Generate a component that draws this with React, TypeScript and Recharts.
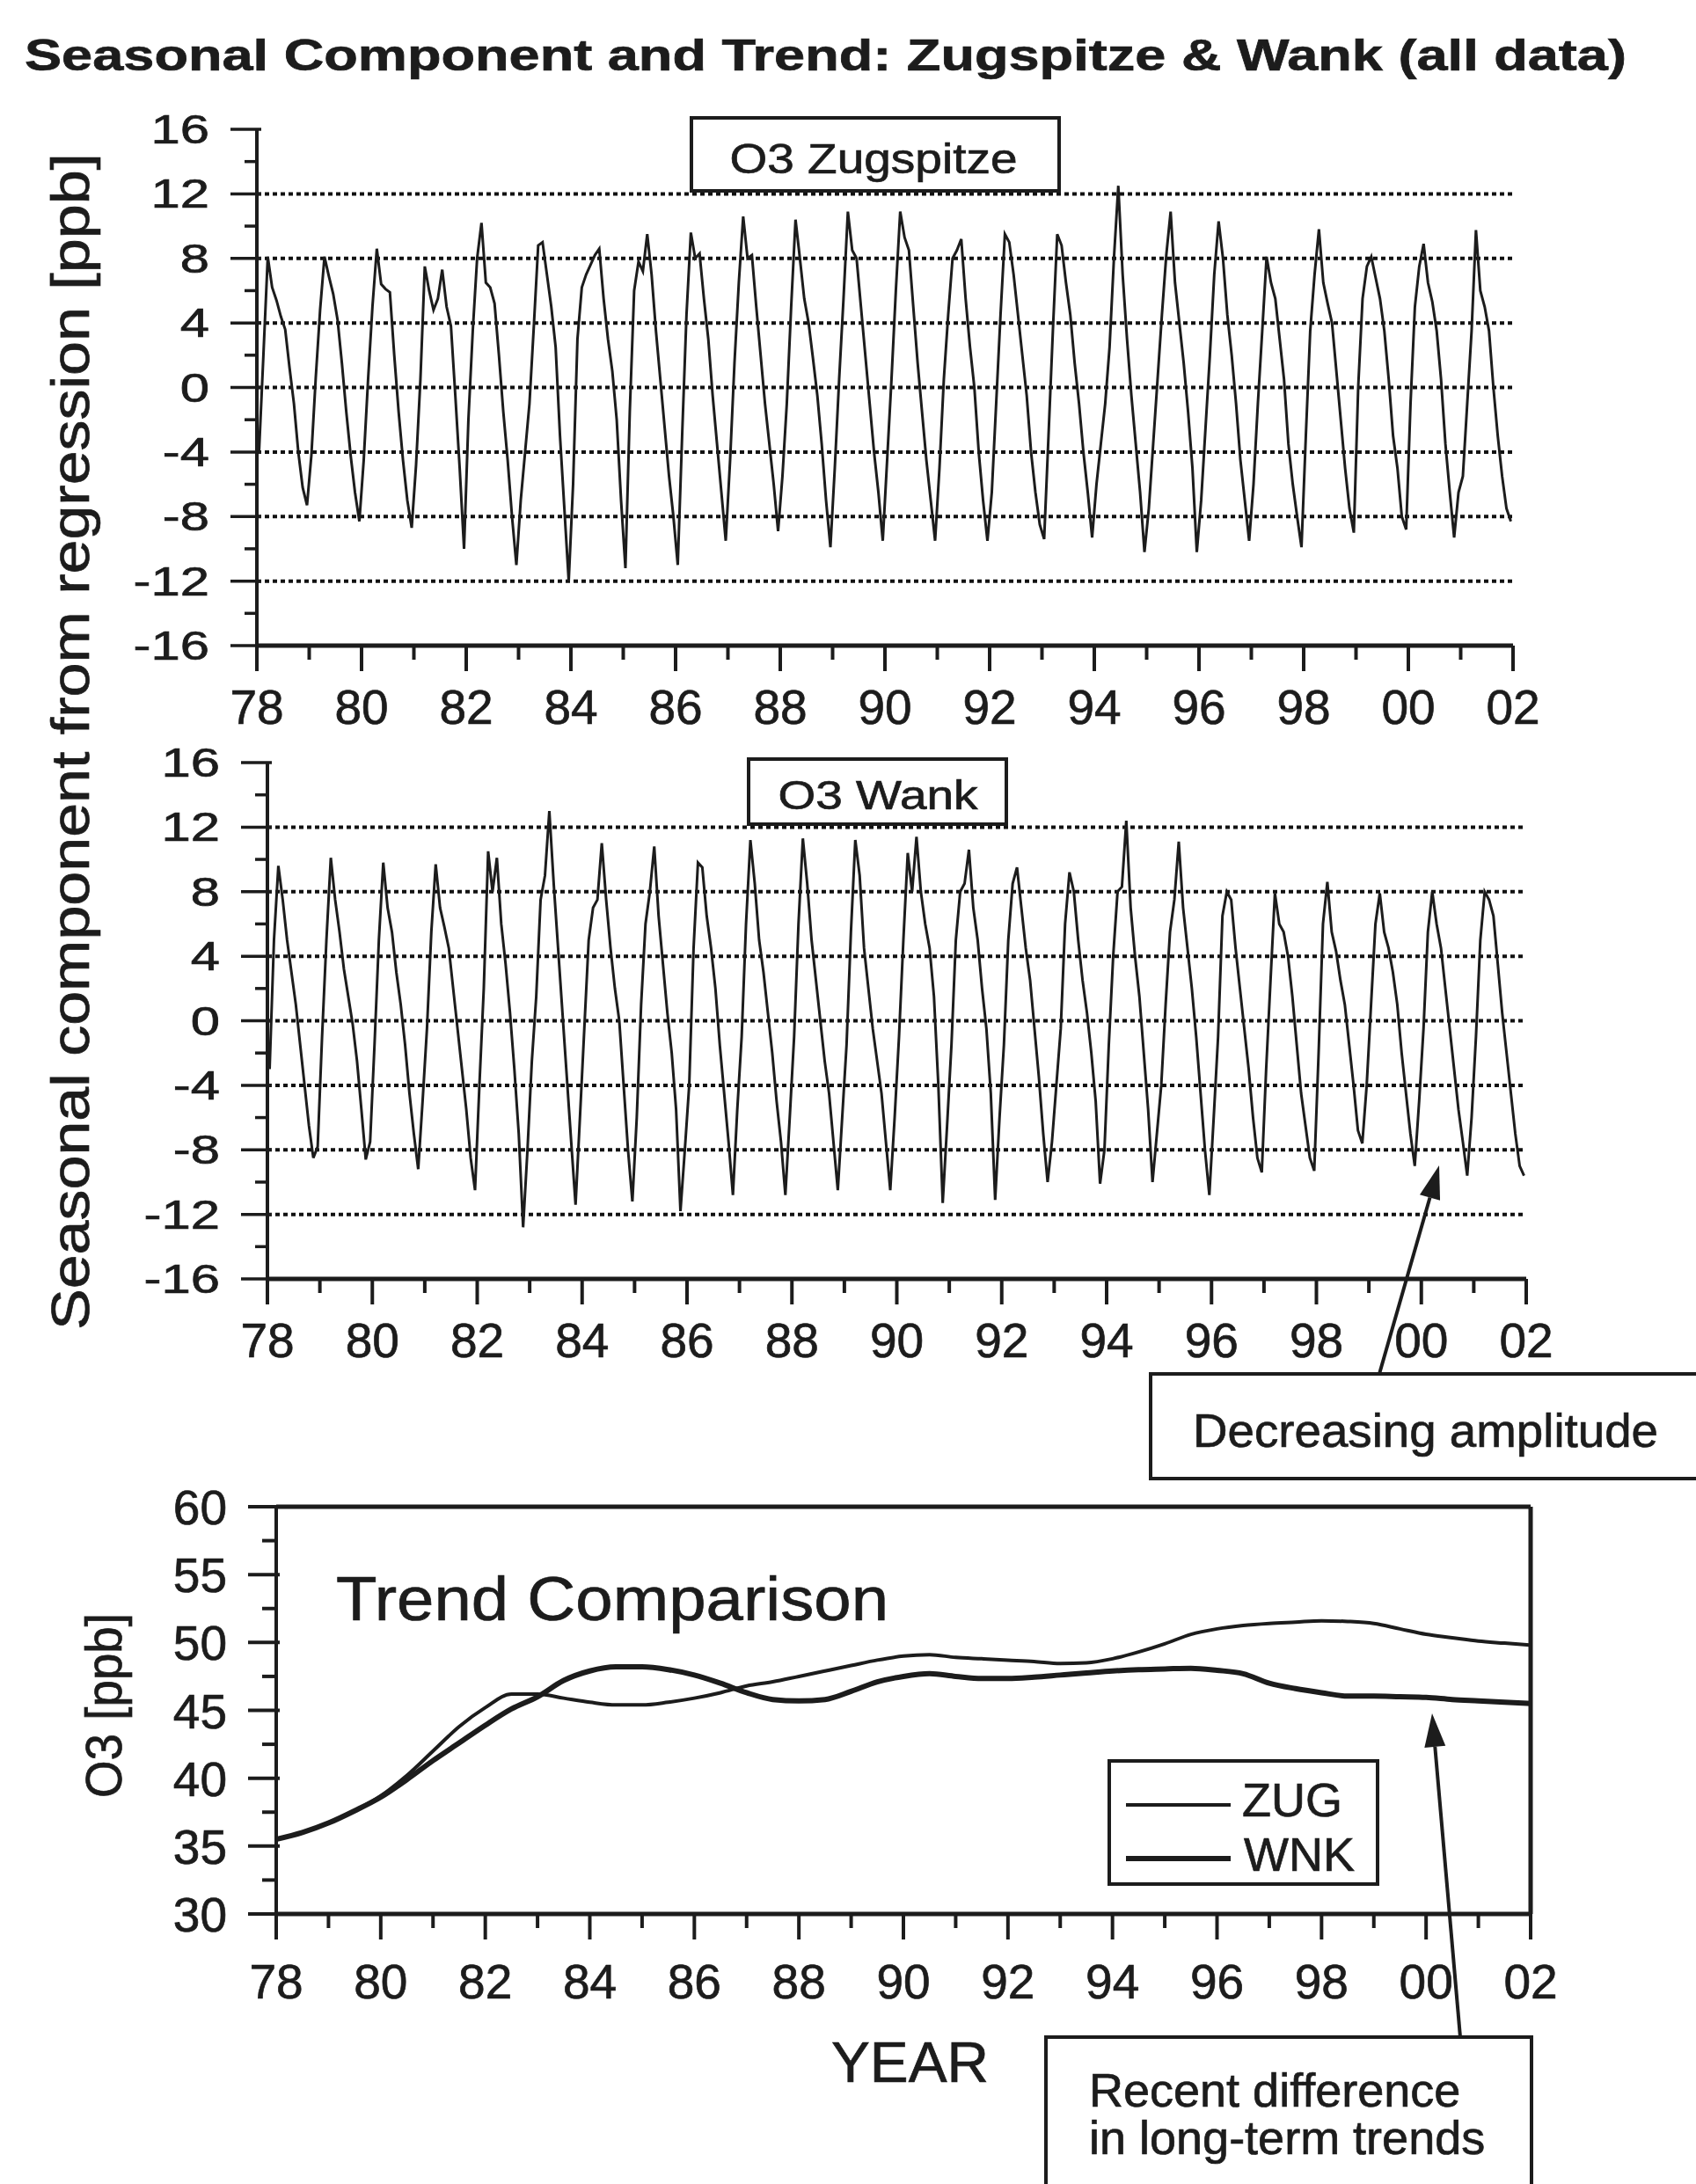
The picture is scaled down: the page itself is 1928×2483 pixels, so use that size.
import React from "react";
import { LineChart, Line, XAxis, YAxis, ReferenceLine } from "recharts";

const INK = "#1c1c1c";
const FONT = "'Liberation Sans', Arial, Helvetica, sans-serif";

// seasonal component [ppb], one row per year (Jan..Dec), 1978-2001
const SEASON_YEARS = [78, 79, 80, 81, 82, 83, 84, 85, 86, 87, 88, 89, 90, 91, 92, 93, 94, 95, 96, 97, 98, 99, 100, 101];

const ZUG_SEASONAL = [
  [-4.0, 2.0, 8.1, 6.2, 5.4, 4.4, 3.6, 1.2, -1.0, -4.0, -6.2, -7.3],
  [-4.2, 0.6, 4.8, 8.1, 6.9, 5.8, 4.2, 1.5, -1.5, -4.2, -6.5, -8.3],
  [-4.5, 0.5, 5.0, 8.6, 6.4, 6.1, 5.9, 2.0, -1.5, -4.5, -7.0, -8.7],
  [-4.8, 0.5, 7.5, 6.0, 4.8, 5.5, 7.3, 5.0, 3.8, -0.5, -5.0, -10.0],
  [-2.0, 3.5, 8.0, 10.2, 6.5, 6.2, 5.2, 2.0, -1.5, -4.5, -8.0, -11.0],
  [-7.0, -4.0, -1.0, 3.8, 8.8, 9.0, 7.0, 5.0, 2.5, -3.0, -7.5, -12.0],
  [-6.0, 3.0, 6.2, 7.0, 7.6, 8.2, 8.6, 5.5, 3.0, 1.0, -2.0, -7.0],
  [-11.2, -1.5, 6.0, 7.8, 7.2, 9.5, 7.0, 3.5, 0.5, -2.5, -5.5, -8.0],
  [-11.0, -3.0, 4.5, 9.6, 8.0, 8.3, 5.5, 3.0, -0.5, -3.5, -6.5, -9.5],
  [-4.5, 1.5, 6.5, 10.6, 8.0, 8.2, 5.0, 2.0, -1.0, -3.5, -6.0, -8.9],
  [-5.5, -1.0, 5.0, 10.4, 8.0, 5.5, 4.0, 1.8, -0.5, -3.5, -7.0, -9.9],
  [-5.0, 0.5, 5.5, 10.9, 8.5, 8.0, 5.0, 2.0, -1.0, -4.0, -6.5, -9.5],
  [-4.5, 0.5, 6.0, 10.9, 9.3, 8.5, 5.0, 1.5, -1.5, -4.5, -7.0, -9.5],
  [-5.0, 0.5, 4.5, 8.0, 8.5, 9.2, 5.5, 2.5, 0.0, -4.0, -7.0, -9.5],
  [-6.5, -1.0, 4.5, 9.5, 9.0, 7.0, 4.5, 2.0, -0.5, -4.0, -6.5, -8.5],
  [-9.4, -3.0, 3.5, 9.5, 8.8, 6.5, 4.5, 1.5, -1.0, -4.0, -6.5, -9.3],
  [-6.0, -3.5, -1.0, 2.5, 8.0, 12.5, 7.0, 3.0, -0.5, -3.5, -6.5, -10.2],
  [-7.5, -3.5, 0.5, 4.5, 8.2, 10.9, 6.5, 4.0, 1.5, -1.5, -5.0, -10.2],
  [-7.0, -2.5, 2.0, 7.0, 10.3, 8.0, 4.5, 2.0, -1.0, -4.5, -7.0, -9.5],
  [-6.0, -1.0, 3.5, 8.1, 6.5, 5.5, 3.0, 0.5, -3.5, -6.0, -8.0, -9.9],
  [-3.0, 3.5, 7.0, 9.8, 6.5, 5.2, 4.0, 1.0, -2.0, -5.0, -7.5, -9.0],
  [0.0, 5.5, 7.5, 8.1, 6.8, 5.5, 3.5, 0.5, -3.0, -5.0, -8.0, -8.8],
  [-1.0, 5.0, 7.5, 8.9, 6.5, 5.3, 3.5, 0.5, -3.5, -6.5, -9.3, -6.5],
  [-5.5, -1.0, 3.5, 9.75, 6.0, 5.0, 3.5, 0.0, -3.0, -5.5, -7.5, -8.3],
];

const WNK_SEASONAL = [
  [-3.0, 5.0, 9.6, 7.5, 5.0, 3.0, 1.0, -1.5, -4.0, -6.5, -8.5, -7.8],
  [-1.0, 5.0, 10.1, 7.5, 5.5, 3.2, 1.5, -0.2, -2.5, -5.5, -8.6, -7.5],
  [-1.5, 5.0, 9.8, 7.0, 5.5, 3.0, 1.0, -1.5, -4.5, -7.0, -9.2, -5.0],
  [-0.5, 5.5, 9.7, 7.0, 5.8, 4.5, 2.0, -0.5, -3.0, -5.5, -8.5, -10.5],
  [-4.0, 2.0, 10.5, 8.0, 10.1, 6.0, 3.5, 0.5, -3.0, -7.0, -12.8, -8.0],
  [-2.5, 1.5, 7.5, 9.0, 13.0, 8.5, 4.5, 0.5, -3.5, -7.5, -11.4, -6.0],
  [-0.5, 5.0, 7.0, 7.5, 11.0, 7.5, 4.5, 2.0, 0.0, -4.0, -8.0, -11.2],
  [-6.0, 1.0, 6.0, 8.0, 10.8, 6.5, 3.5, 0.5, -2.0, -5.5, -11.8, -8.0],
  [-4.0, 4.5, 9.8, 9.5, 6.5, 4.5, 2.0, -1.5, -4.5, -7.5, -10.8, -5.5],
  [-1.0, 6.0, 11.2, 8.5, 5.0, 3.0, 0.5, -2.0, -5.0, -7.5, -10.8, -6.0],
  [-1.0, 6.0, 11.3, 8.5, 5.0, 2.5, 0.0, -2.5, -4.5, -7.5, -10.5, -6.0],
  [-1.5, 5.5, 11.2, 9.0, 4.5, 2.0, -0.5, -2.5, -4.5, -7.5, -10.5, -6.0],
  [-1.0, 5.0, 10.4, 8.0, 11.4, 8.0, 6.0, 4.5, 1.5, -4.0, -11.3, -6.5],
  [-1.5, 5.0, 8.0, 8.5, 10.6, 7.0, 5.0, 2.0, -0.5, -4.5, -11.1, -6.0],
  [-1.5, 5.0, 8.5, 9.5, 7.0, 4.5, 2.5, -0.5, -3.5, -7.0, -10.0, -7.5],
  [-4.0, -0.5, 6.0, 9.2, 8.0, 5.0, 2.5, 0.5, -2.0, -5.0, -10.1, -8.0],
  [-1.5, 4.0, 8.0, 8.3, 12.4, 7.0, 4.0, 1.5, -2.0, -5.5, -10.0, -7.0],
  [-4.0, 1.0, 5.5, 7.5, 11.1, 7.0, 4.5, 2.0, -1.0, -4.5, -8.0, -10.8],
  [-6.0, -1.0, 6.5, 8.0, 7.5, 4.5, 2.0, -0.5, -3.0, -6.0, -8.5, -9.4],
  [-3.0, 2.5, 7.9, 6.0, 5.5, 4.0, 1.5, -1.5, -4.5, -6.5, -8.5, -9.3],
  [-2.0, 6.0, 8.6, 5.5, 4.3, 2.5, 1.0, -1.5, -4.0, -6.8, -7.6, -4.0],
  [1.0, 6.0, 7.9, 5.5, 4.5, 3.0, 1.0, -2.0, -4.5, -7.0, -9.0, -5.0],
  [-0.5, 5.5, 8.0, 6.0, 4.5, 2.0, -0.5, -3.0, -5.5, -7.5, -9.6, -6.0],
  [-1.0, 5.0, 8.0, 7.5, 6.5, 3.5, 0.5, -2.0, -4.5, -7.0, -9.0, -9.6],
];

// long-term trend [ppb], half-year steps
const TREND_YEARS = [
  78, 78.5, 79, 79.5, 80, 80.5, 81, 81.5, 82, 82.5, 83, 83.5, 84, 84.5, 85, 85.5, 86, 86.5,
  87, 87.5, 88, 88.5, 89, 89.5, 90, 90.5, 91, 91.5, 92, 92.5, 93, 93.5, 94, 94.5, 95, 95.5,
  96, 96.5, 97, 97.5, 98, 98.5, 99, 99.5, 100, 100.5, 101, 101.5, 102,
];
const ZUG_TREND = [
  35.5, 36.0, 36.7, 37.6, 38.7, 40.2, 42.0, 43.8, 45.2, 46.2, 46.2, 45.9, 45.6, 45.4, 45.4, 45.6, 45.9, 46.3,
  46.8, 47.1, 47.5, 47.9, 48.3, 48.7, 49.0, 49.1, 48.9, 48.8, 48.7, 48.6, 48.45, 48.5, 48.8, 49.3, 49.9, 50.6,
  51.0, 51.25, 51.4, 51.5, 51.6, 51.55, 51.4, 51.0, 50.6, 50.35, 50.1, 49.95, 49.8,
];
const WNK_TREND = [
  35.5, 36.0, 36.7, 37.6, 38.6, 39.9, 41.3, 42.6, 43.9, 45.1, 46.0, 47.2, 47.9, 48.2, 48.2, 48.0, 47.6, 47.0,
  46.3, 45.8, 45.7, 45.8, 46.4, 47.1, 47.5, 47.7, 47.5, 47.35, 47.35, 47.45, 47.6, 47.75, 47.9, 48.0, 48.05, 48.1,
  47.95, 47.7, 47.0, 46.6, 46.3, 46.05, 46.05, 46.0, 45.95, 45.8, 45.7, 45.6, 45.5,
];

const YEAR_TICKS = [78, 79, 80, 81, 82, 83, 84, 85, 86, 87, 88, 89, 90, 91, 92, 93, 94, 95, 96, 97, 98, 99, 100, 101, 102];
const SEASONAL_TICKS = [-16, -14, -12, -10, -8, -6, -4, -2, 0, 2, 4, 6, 8, 10, 12, 14, 16];
const SEASONAL_GRID = [-12, -8, -4, 0, 4, 8, 12];
const TREND_TICKS = [30, 32.5, 35, 37.5, 40, 42.5, 45, 47.5, 50, 52.5, 55, 57.5, 60];

const seasonalData = SEASON_YEARS.flatMap((yr, i) =>
  ZUG_SEASONAL[i].map((z, m) => ({ t: yr + (m + 0.5) / 12, zug: z, wnk: WNK_SEASONAL[i][m] }))
);
const trendData = TREND_YEARS.map((t, i) => ({ t, zug: ZUG_TREND[i], wnk: WNK_TREND[i] }));

const yearLabel = (v: number) => String(v % 100).padStart(2, "0");
const digitWidth = (s: string) => [...s].reduce((w, c) => w + (c === "-" ? 0.333 : 0.556), 0);

// scanned print looks a bit heavier than the plain font
const heavy = { stroke: INK, strokeWidth: 0.7, fontFamily: FONT, fill: INK };

const bottomYearTick = (labelDy: number) => (props: any) => {
  const { x, y, payload } = props;
  const major = payload.value % 2 === 0;
  return (
    <g>
      <line x1={x} x2={x} y1={y} y2={y + (major ? 29 : 16)} stroke={INK} strokeWidth={4} />
      {major && (
        <text x={x} y={y + labelDy} textAnchor="middle" fontSize={55} {...heavy}>
          {yearLabel(payload.value)}
        </text>
      )}
    </g>
  );
};

const topYearTick = (props: any) => {
  const { x, y, payload } = props;
  const major = payload.value % 2 === 0;
  return <line x1={x} x2={x} y1={y} y2={y + (major ? 27 : 13)} stroke={INK} strokeWidth={4} />;
};

const seasonalTick = (props: any) => {
  const { x, y, payload } = props;
  const v = payload.value;
  const major = v % 4 === 0;
  const label = String(v);
  return (
    <g>
      <line x1={major ? x - 30 : x - 14} x2={major ? x + 5 : x} y1={y} y2={y} stroke={INK} strokeWidth={3.5} />
      {major && (
        <text
          x={x - 54}
          y={y + 16}
          textAnchor="end"
          fontSize={46}
          textLength={digitWidth(label) * 46 * 1.3}
          lengthAdjust="spacingAndGlyphs"
          {...heavy}
        >
          {label}
        </text>
      )}
    </g>
  );
};

const trendLeftTick = (props: any) => {
  const { x, y, payload } = props;
  const major = payload.value % 5 === 0;
  return (
    <g>
      <line x1={major ? x - 32 : x - 16} x2={major ? x + 4 : x} y1={y} y2={y} stroke={INK} strokeWidth={4} />
      {major && (
        <text x={x - 56} y={y + 20} textAnchor="end" fontSize={55} {...heavy}>
          {payload.value}
        </text>
      )}
    </g>
  );
};

const trendRightTick = (props: any) => {
  const { x, y, payload } = props;
  const major = payload.value % 5 === 0;
  return <line x1={x - (major ? 30 : 15)} x2={x} y1={y} y2={y} stroke={INK} strokeWidth={4} />;
};

function SeasonalPanel({ top, height, margin, dataKey }: { top: number; height: number; margin: any; dataKey: string }) {
  return (
    <div style={{ position: "absolute", left: 0, top }}>
      <LineChart width={1928} height={height} data={seasonalData} margin={margin}>
        {SEASONAL_GRID.map((g) => (
          <ReferenceLine key={g} y={g} stroke="#111" strokeWidth={4} strokeDasharray="5 4" />
        ))}
        <XAxis
          dataKey="t"
          type="number"
          domain={[78, 102]}
          ticks={YEAR_TICKS}
          interval={0}
          height={60}
          tickSize={0}
          tickMargin={0}
          tickLine={false}
          axisLine={{ stroke: INK, strokeWidth: 5 }}
          tick={bottomYearTick(89)}
        />
        <YAxis
          type="number"
          domain={[-16, 16]}
          ticks={SEASONAL_TICKS}
          interval={0}
          width={100}
          tickSize={0}
          tickMargin={0}
          tickLine={false}
          axisLine={{ stroke: INK, strokeWidth: 4 }}
          tick={seasonalTick}
        />
        <Line
          dataKey={dataKey}
          type="linear"
          stroke={INK}
          strokeWidth={3}
          dot={false}
          activeDot={false}
          isAnimationActive={false}
        />
      </LineChart>
    </div>
  );
}

function TrendPanel() {
  return (
    <div style={{ position: "absolute", left: 0, top: 1600 }}>
      <LineChart width={1928} height={700} data={trendData} margin={{ top: 103, right: 178, left: 214, bottom: 64 }}>
        <XAxis
          dataKey="t"
          type="number"
          domain={[78, 102]}
          ticks={YEAR_TICKS}
          interval={0}
          height={60}
          tickSize={0}
          tickMargin={0}
          tickLine={false}
          axisLine={{ stroke: INK, strokeWidth: 5 }}
          tick={bottomYearTick(96)}
        />
        <XAxis
          xAxisId="top"
          orientation="top"
          type="number"
          domain={[78, 102]}
          ticks={YEAR_TICKS}
          interval={0}
          height={10}
          tickSize={0}
          tickMargin={0}
          tickLine={false}
          axisLine={{ stroke: INK, strokeWidth: 5 }}
          tick={topYearTick}
        />
        <YAxis
          type="number"
          domain={[30, 60]}
          ticks={TREND_TICKS}
          interval={0}
          width={100}
          tickSize={0}
          tickMargin={0}
          tickLine={false}
          axisLine={{ stroke: INK, strokeWidth: 4 }}
          tick={trendLeftTick}
        />
        <YAxis
          yAxisId="right"
          orientation="right"
          type="number"
          domain={[30, 60]}
          ticks={TREND_TICKS}
          interval={0}
          width={10}
          tickSize={0}
          tickMargin={0}
          tickLine={false}
          axisLine={{ stroke: INK, strokeWidth: 5 }}
          tick={trendRightTick}
        />
        <Line dataKey="zug" type="monotone" stroke={INK} strokeWidth={4} dot={false} activeDot={false} isAnimationActive={false} />
        <Line dataKey="wnk" type="monotone" stroke={INK} strokeWidth={6} dot={false} activeDot={false} isAnimationActive={false} />
      </LineChart>
    </div>
  );
}

function Arrow({ x1, y1, x2, y2 }: { x1: number; y1: number; x2: number; y2: number }) {
  const dx = x2 - x1;
  const dy = y2 - y1;
  const len = Math.hypot(dx, dy);
  const ux = dx / len;
  const uy = dy / len;
  const hl = 38;
  const hw = 12;
  const bx = x2 - ux * hl;
  const by = y2 - uy * hl;
  const pts = `${x2},${y2} ${bx - uy * hw},${by + ux * hw} ${bx + uy * hw},${by - ux * hw}`;
  return (
    <g>
      <line x1={x1} y1={y1} x2={bx} y2={by} stroke={INK} strokeWidth={4} />
      <polygon points={pts} fill={INK} />
    </g>
  );
}

function Overlay() {
  return (
    <svg width={1928} height={2483} style={{ position: "absolute", left: 0, top: 0, pointerEvents: "none" }}>
      <text x={28} y={80} fontSize={50} fontWeight="bold" textLength={1821} lengthAdjust="spacingAndGlyphs" {...heavy}>
        Seasonal Component and Trend: Zugspitze &amp; Wank (all data)
      </text>

      <text
        x={101}
        y={843}
        transform="rotate(-90 101 843)"
        textAnchor="middle"
        fontSize={62}
        textLength={1338}
        lengthAdjust="spacingAndGlyphs"
        {...heavy}
      >
        Seasonal component from regression [ppb]
      </text>

      <rect x={786} y={134} width={418} height={83} fill="#fff" stroke={INK} strokeWidth={4} />
      <text x={993} y={197} textAnchor="middle" fontSize={48} textLength={327} lengthAdjust="spacingAndGlyphs" {...heavy}>
        O3 Zugspitze
      </text>

      <rect x={851} y={863} width={293} height={74} fill="#fff" stroke={INK} strokeWidth={4} />
      <text x={998} y={920} textAnchor="middle" fontSize={46} textLength={227} lengthAdjust="spacingAndGlyphs" {...heavy}>
        O3 Wank
      </text>

      <rect x={1308} y={1562} width={660} height={119} fill="#fff" stroke={INK} strokeWidth={4} />
      <text x={1356} y={1645} fontSize={54} textLength={529} lengthAdjust="spacingAndGlyphs" {...heavy}>
        Decreasing amplitude
      </text>
      <Arrow x1={1568} y1={1562} x2={1636} y2={1325} />

      <text x={382} y={1842} fontSize={70} textLength={628} lengthAdjust="spacingAndGlyphs" {...heavy}>
        Trend Comparison
      </text>

      <text
        x={138}
        y={1939}
        transform="rotate(-90 138 1939)"
        textAnchor="middle"
        fontSize={58}
        textLength={210}
        lengthAdjust="spacingAndGlyphs"
        {...heavy}
      >
        O3 [ppb]
      </text>

      <rect x={1261} y={2002} width={305} height={140} fill="#fff" stroke={INK} strokeWidth={4} />
      <line x1={1280} x2={1399} y1={2052} y2={2052} stroke={INK} strokeWidth={4} />
      <text x={1412} y={2065} fontSize={54} {...heavy}>
        ZUG
      </text>
      <line x1={1280} x2={1399} y1={2113} y2={2113} stroke={INK} strokeWidth={6} />
      <text x={1414} y={2127} fontSize={54} {...heavy}>
        WNK
      </text>

      <text x={945} y={2367} fontSize={64} textLength={179} lengthAdjust="spacingAndGlyphs" {...heavy}>
        YEAR
      </text>

      <rect x={1189} y={2316} width={552} height={220} fill="#fff" stroke={INK} strokeWidth={4} />
      <text x={1238} y={2395} fontSize={54} {...heavy}>
        Recent difference
      </text>
      <text x={1238} y={2449} fontSize={54} {...heavy}>
        in long-term trends
      </text>
      <Arrow x1={1660} y1={2316} x2={1628} y2={1948} />
    </svg>
  );
}

export default function App() {
  return (
    <div
      style={{
        position: "absolute",
        left: 0,
        top: 0,
        width: 1928,
        height: 2483,
        background: "#fff",
        overflow: "hidden",
        fontFamily: FONT,
      }}
    >
      <SeasonalPanel top={0} height={860} margin={{ top: 147, right: 208, left: 192, bottom: 66 }} dataKey="zug" />
      <SeasonalPanel top={780} height={800} margin={{ top: 87, right: 193, left: 204, bottom: 66 }} dataKey="wnk" />
      <TrendPanel />
      <Overlay />
    </div>
  );
}
